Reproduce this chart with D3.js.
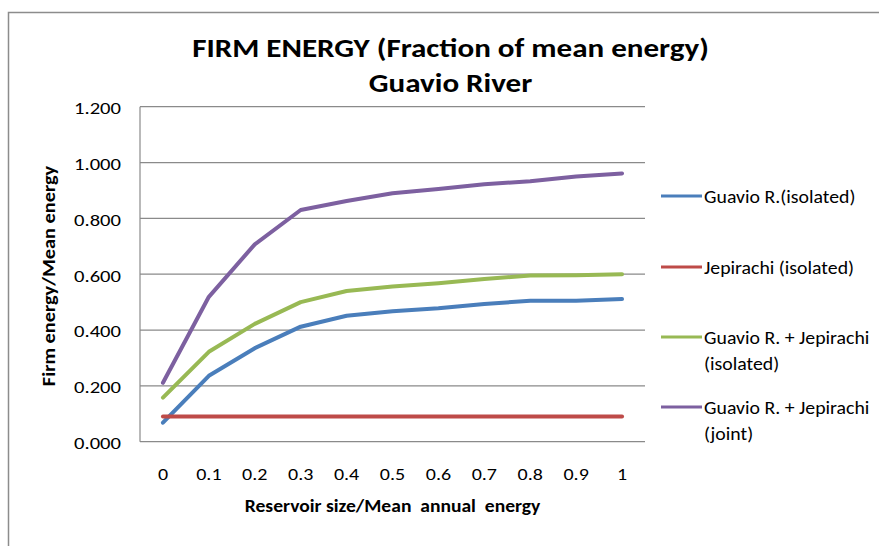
<!DOCTYPE html>
<html>
<head>
<meta charset="utf-8">
<script src="https://cdn.jsdelivr.net/npm/d3@7"></script>
<style>
  html, body { margin: 0; padding: 0; background: #fff; }
  svg { display: block; font-family: Carlito, Calibri, Lato, "Liberation Sans", sans-serif; }
  text { white-space: pre; }
</style>
</head>
<body>
<svg id="chart" width="879" height="546"></svg>
<script>
// Reservoir size as a fraction of mean annual energy
const reservoirSizes = ["0", "0.1", "0.2", "0.3", "0.4", "0.5", "0.6", "0.7", "0.8", "0.9", "1"];

// Firm energy / mean energy for each case
const guavioIsolated = [0.068, 0.236, 0.335, 0.412, 0.451, 0.467, 0.478, 0.493, 0.505, 0.505, 0.511];
const jepirachiIsolated = [0.090, 0.090, 0.090, 0.090, 0.090, 0.090, 0.090, 0.090, 0.090, 0.090, 0.090];
const combinedIsolated = [0.158, 0.322, 0.422, 0.500, 0.540, 0.556, 0.568, 0.583, 0.595, 0.596, 0.600];
const combinedJoint = [0.211, 0.519, 0.707, 0.830, 0.862, 0.890, 0.905, 0.922, 0.933, 0.950, 0.961];

const yTicks = [0, 0.2, 0.4, 0.6, 0.8, 1.0, 1.2];

const seriesNames = [
  ["Guavio R.(isolated)"],
  ["Jepirachi (isolated)"],
  ["Guavio R. + Jepirachi", "(isolated)"],
  ["Guavio R. + Jepirachi", "(joint)"]
];
const seriesValues = [guavioIsolated, jepirachiIsolated, combinedIsolated, combinedJoint];
const seriesColors = ["#4a7ebb", "#be4b48", "#98b954", "#7d60a0"];

const svg = d3.select("#chart");
const W = 879, H = 546;
const plot = { left: 140, right: 645, top: 106.7, bottom: 441.7 };

// Text drawn with a slight horizontal stretch (wide glyph rendering)
function label(parent, x, y, str, opts) {
  const o = Object.assign({ size: 16, sx: 1.1, anchor: "start", weight: "normal", rotate: 0 }, opts);
  return parent.append("text")
    .attr("transform", `translate(${x},${y}) rotate(${o.rotate}) scale(${o.sx},1)`)
    .attr("text-anchor", o.anchor)
    .attr("font-size", o.size)
    .attr("font-weight", o.weight)
    .attr("fill", "#000")
    .text(str);
}

// Outer chart frame
svg.append("path")
  .attr("d", `M8.5,${H} V12.5 H${W}`)
  .attr("fill", "none")
  .attr("stroke", "#8c8c8c")
  .attr("stroke-width", 1.5);

const x = d3.scalePoint().domain(reservoirSizes).range([plot.left, plot.right]).padding(0.5);
const y = d3.scaleLinear().domain([0, 1.2]).range([plot.bottom, plot.top]);

// Horizontal gridlines
svg.append("g")
  .selectAll("line")
  .data(yTicks)
  .join("line")
  .attr("x1", plot.left).attr("x2", plot.right)
  .attr("y1", d => y(d)).attr("y2", d => y(d))
  .attr("stroke", "#8a8a8a")
  .attr("stroke-width", 1.2);

// Value axis line
svg.append("line")
  .attr("x1", plot.left).attr("x2", plot.left)
  .attr("y1", y(0)).attr("y2", y(1.2))
  .attr("stroke", "#8a8a8a").attr("stroke-width", 1.2);

// Y tick labels
const yLabels = svg.append("g");
yTicks.forEach(t => {
  label(yLabels, 121, y(t) + 7.3, d3.format(".3f")(t), { size: 16.5, sx: 1.25, anchor: "end" });
});

// X tick labels
const xLabels = svg.append("g");
reservoirSizes.forEach(s => {
  label(xLabels, x(s), 480, s, { size: 16, sx: 1.25, anchor: "middle" });
});

// Series lines
const line = d3.line()
  .x((d, i) => x(reservoirSizes[i]))
  .y(d => y(d));

svg.append("g")
  .selectAll("path")
  .data(seriesValues)
  .join("path")
  .attr("d", d => line(d))
  .attr("fill", "none")
  .attr("stroke", (d, i) => seriesColors[i])
  .attr("stroke-width", 4)
  .attr("stroke-linejoin", "round")
  .attr("stroke-linecap", "round");

// Title
label(svg, 450.5, 56.7, "FIRM ENERGY (Fraction of mean energy)", { size: 27, sx: 1.15, anchor: "middle", weight: "bold" });
label(svg, 450.5, 92, "Guavio River", { size: 27, sx: 1.15, anchor: "middle", weight: "bold" });

// Axis titles
label(svg, (plot.left + plot.right) / 2, 511.5, "Reservoir size/Mean  annual  energy", { size: 17.5, sx: 1.12, anchor: "middle", weight: "bold" });
label(svg, 55, 276, "Firm energy/Mean energy", { size: 18.5, sx: 1.1, anchor: "middle", weight: "bold", rotate: -90 });

// Legend
const legendY = [196, 267, 337, 407];
const legend = svg.append("g");
seriesNames.forEach((lines, i) => {
  legend.append("line")
    .attr("x1", 661).attr("x2", 702)
    .attr("y1", legendY[i]).attr("y2", legendY[i])
    .attr("stroke", seriesColors[i])
    .attr("stroke-width", 3);
  lines.forEach((txt, j) => {
    label(legend, 704, legendY[i] + 7 + j * 26, txt, { size: 18, sx: 1.1 });
  });
});
</script>
</body>
</html>
